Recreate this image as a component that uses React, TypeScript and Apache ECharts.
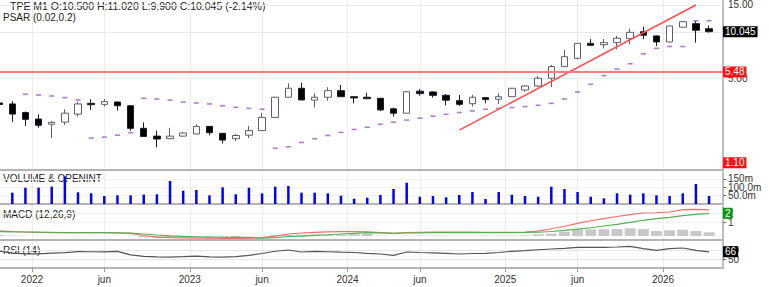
import React, { useEffect, useRef } from 'react';
import * as echarts from 'echarts';

const FONT = 'Liberation Sans, Arial, Helvetica, sans-serif';

// ---------- data (monthly) ----------
const months = [
  '2021-10', '2021-11', '2021-12',
  '2022-01', '2022-02', '2022-03', '2022-04', '2022-05', '2022-06', '2022-07', '2022-08', '2022-09', '2022-10', '2022-11', '2022-12',
  '2023-01', '2023-02', '2023-03', '2023-04', '2023-05', '2023-06', '2023-07', '2023-08', '2023-09', '2023-10', '2023-11', '2023-12',
  '2024-01', '2024-02', '2024-03', '2024-04', '2024-05', '2024-06', '2024-07', '2024-08', '2024-09', '2024-10', '2024-11', '2024-12',
  '2025-01', '2025-02', '2025-03', '2025-04', '2025-05', '2025-06', '2025-07', '2025-08', '2025-09', '2025-10', '2025-11', '2025-12',
  '2026-01', '2026-02', '2026-03', '2026-04',
];

const opens = [
  3.44, 3.39, 2.98, 2.70, 2.50, 2.58, 2.91, 3.42, 3.37, 3.49,
  3.30, 2.35, 2.09, 2.01, 2.09, 2.16, 2.42, 2.18, 2.01, 2.12,
  2.27, 2.77, 3.75, 4.29, 3.59, 3.75, 4.14, 3.78, 3.75, 3.69,
  3.15, 2.95, 4.11, 4.06, 3.86, 3.56, 3.40, 3.73, 3.64, 3.78,
  4.18, 4.44, 4.99, 5.94, 6.73, 8.43, 8.26, 8.52, 9.05, 10.04,
  9.42, 8.61, 10.75, 11.33, 10.50,
];
const closes = [
  3.36, 2.91, 2.69, 2.46, 2.57, 2.95, 3.39, 3.35, 3.51, 3.30,
  2.35, 2.08, 2.00, 2.09, 2.19, 2.42, 2.20, 1.97, 2.11, 2.27,
  2.77, 3.75, 4.29, 3.60, 3.75, 4.14, 3.78, 3.71, 3.67, 3.10,
  2.95, 4.07, 3.96, 3.86, 3.59, 3.37, 3.75, 3.62, 3.78, 4.29,
  4.44, 4.99, 5.94, 6.90, 8.43, 8.18, 8.52, 9.10, 9.95, 9.52,
  8.61, 10.94, 11.67, 10.265, 10.045,
];
const lows = [
  3.20, 2.59, 2.43, 2.37, 2.03, 2.47, 2.80, 3.10, 3.26, 3.07,
  2.27, 2.07, 1.77, 2.00, 2.08, 2.15, 2.12, 1.87, 1.94, 2.03,
  2.26, 2.76, 3.73, 3.59, 3.21, 3.56, 3.77, 3.42, 3.64, 3.05,
  2.80, 2.94, 3.84, 3.73, 3.32, 3.29, 3.26, 3.42, 3.39, 3.77,
  4.07, 4.36, 4.36, 5.90, 6.63, 8.16, 7.82, 7.70, 8.31, 9.00,
  8.10, 8.57, 10.72, 8.52, 9.90,
];
const highs = [
  3.90, 3.53, 3.02, 2.90, 2.62, 3.13, 3.51, 3.64, 3.65, 3.51,
  3.34, 2.57, 2.27, 2.37, 2.23, 2.50, 2.43, 2.19, 2.16, 2.43,
  2.95, 3.77, 4.63, 4.64, 3.98, 4.36, 4.51, 3.80, 4.01, 3.71,
  3.21, 4.11, 4.24, 4.09, 3.94, 3.88, 3.88, 3.75, 3.98, 4.31,
  4.51, 5.16, 6.09, 7.63, 8.47, 9.00, 9.00, 9.42, 10.50, 10.83,
  9.49, 10.98, 11.83, 11.83, 11.02,
];
const psar: (number | null)[] = [
  2.45, null, 3.92, 3.88, 3.82, 3.73, 3.60, 2.03, 2.06, 2.12,
  2.20, 3.69, 3.65, 3.59, 3.49, 3.44, 3.39, 3.30, 3.22, 3.17,
  3.13, 1.74, 1.78, 1.90, 2.01, 2.11, 2.21, 2.31, 2.39, 2.50,
  2.58, 2.66, 2.74, 2.82, 2.90, 2.98, 3.05, 3.13, 3.17, 3.21,
  3.26, 3.32, 3.42, 3.65, 4.06, 4.55, 5.19, 5.73, 6.20, 7.20,
  7.82, 8.04, 8.04, 11.83, 11.83,
];
// volume in millions
const volumes: (number | null)[] = [
  null, 67.7, 97.6, 97.6, 103.6, 165, 70, 64, 48, 52,
  52, 56, 58, 137.7, 79.6, 83.8, 52, 100, 58, 97.6,
  64, 103.6, 107.8, 67.7, 67.7, 64, 49.7, 31.7, 37.7, 54,
  89.8, 127.5, 43.7, 48, 40, 54, 71.9, 30, 71.9, 56,
  48, 43.7, 103.6, 89.8, 71.9, 43.7, 34, 64, 56, 64,
  52, 48, 64, 119.8, 48,
];
const macdLine = [
  0.09, 0.00, -0.05, -0.09, -0.11, -0.13, -0.13, -0.13, -0.13, -0.16,
  -0.20, -0.43, -0.60, -0.67, -0.68, -0.71, -0.72, -0.74, -0.74, -0.73,
  -0.67, -0.49, -0.27, -0.16, -0.09, -0.03, -0.02, -0.02, -0.03, -0.11,
  -0.20, -0.13, -0.08, -0.05, -0.05, -0.05, -0.07, -0.09, -0.09, -0.09,
  -0.05, 0.05, 0.30, 0.57, 0.89, 1.17, 1.39, 1.63, 1.83, 2.01,
  2.04, 2.12, 2.37, 2.41, 2.34,
];
const signalLine = [
  -0.02, -0.03, -0.05, -0.07, -0.09, -0.12, -0.13, -0.13, -0.13, -0.14,
  -0.18, -0.27, -0.38, -0.47, -0.52, -0.57, -0.60, -0.62, -0.64, -0.67,
  -0.71, -0.66, -0.54, -0.49, -0.41, -0.35, -0.27, -0.20, -0.13, -0.14,
  -0.20, -0.16, -0.14, -0.13, -0.13, -0.13, -0.13, -0.13, -0.13, -0.11,
  -0.10, -0.08, 0.00, 0.13, 0.27, 0.41, 0.60, 0.78, 1.00, 1.22,
  1.39, 1.54, 1.72, 1.87, 1.98,
];
const macdHist = [
  0.1, 0.05, 0.02, 0.02, 0.02, 0.02, 0.02, 0.02, 0.02, 0.02,
  0.02, -0.15, -0.2, -0.2, -0.15, -0.15, -0.12, -0.1, -0.1, -0.05,
  0.03, 0.1, 0.12, 0.15, 0.15, 0.15, 0.15, 0.2, 0.25, 0.05,
  0.02, 0.05, 0.05, 0.05, 0.05, 0.02, 0.02, 0.05, 0.05, 0.05,
  0.08, 0.18, 0.25, 0.47, 0.73, 0.73, 0.73, 0.76, 0.84, 0.76,
  0.54, 0.62, 0.68, 0.54, 0.4,
];
const rsi = [
  67.8, 63.5, 61.6, 61.6, 63.1, 64.2, 66.6, 66.3, 65.9, 67.2,
  59.7, 56.5, 55.2, 54.9, 55.6, 56.7, 55.2, 54.5, 55.8, 58.4,
  62.5, 67.4, 70, 65.7, 67.2, 66.3, 65.3, 64.6, 62.9, 61.4,
  58.6, 65.7, 64.6, 63.8, 62.9, 61.4, 62.5, 62.9, 64.6, 67.2,
  68.5, 70.6, 72.2, 73.7, 75.8, 75.8, 75.8, 76.5, 78, 72.8,
  69.4, 72.8, 74.3, 69.4, 66.2,
];

// trend line endpoints (month, price)
const trendMonths = ['2024-09', '2026-03'];
const trendValues = [2.29, 15.0];

// x-axis ticks, in months from Jan 2022
const xTickValues = [0, 5.5, 12, 17.5, 24, 29.5, 36, 41.5, 48];
const xTickLabels = ['2022', 'jun', '2023', 'jun', '2024', 'jun', '2025', 'jun', '2026'];

const priceGridValues = [15, 10, 5];
const priceGridLabels = ['15.00', '', '5.00'];
const supportLevel = 5.48;
const lowLevel = 1.10;
const lowLevelAnchor = 1.40; // clamped label position at bottom of price panel

const volTickValues = [50, 100, 150];
const volTickLabels = ['50.0m', '100.0m', '150m'];
const macdTickValues = [1, 2];
const macdTickLabels = ['1', '2'];
const rsiTickValues = [50, 70];
const rsiTickLabels = ['50', '70'];

// ---------- helpers ----------
const pos = (ym: string) => {
  const [y, m] = ym.split('-').map(Number);
  return (y - 2022) * 12 + (m - 1) + 0.5;
};
const X_MIN = -2.434;
const X_MAX = 52.56;
const HIDDEN_LINE = { color: 'rgba(0,0,0,0)', width: 1, type: 'solid' };

const xAxisFor = (gridIndex: number, bottom: boolean) => ({
  type: 'value',
  gridIndex,
  min: X_MIN,
  max: X_MAX,
  axisLine: { show: true, onZero: false, lineStyle: { color: '#b4b4b4', width: 2 } },
  axisTick: {
    show: true,
    customValues: xTickValues,
    length: bottom ? 4 : 0,
    lineStyle: { color: '#999' },
  },
  axisLabel: {
    show: bottom,
    customValues: xTickValues,
    interval: 0,
    hideOverlap: false,
    formatter: (v: number) => {
      const k = xTickValues.findIndex((t) => Math.abs(t - v) < 0.01);
      return k >= 0 ? xTickLabels[k] : '';
    },
    fontSize: 10,
    color: '#333',
    margin: 6,
    fontFamily: FONT,
  },
  splitLine: { show: true, lineStyle: { color: '#ececec', width: 1 } },
});

// horizontal level lines with a plain grey tick label on the right
const levelLines = (values: number[], texts: string[], color: string) =>
  values.map((v, i) => ({
    yAxis: v,
    lineStyle: { color, width: 1, type: 'solid' },
    label: {
      show: texts[i] !== '',
      position: 'end',
      distance: 5,
      formatter: texts[i],
      color: '#333',
      fontSize: 10,
      fontFamily: FONT,
    },
  }));

const boxLabel = (text: string, bg: string) => ({
  show: true,
  position: 'end',
  distance: 0,
  formatter: text,
  color: '#fff',
  backgroundColor: bg,
  padding: [1, 2, 0, 2],
  fontSize: 10,
  lineHeight: 10,
  fontFamily: FONT,
});

const rightAxisLine = { show: true, onZero: false, lineStyle: { color: '#a8a8a8', width: 1.5 } };
const rightTicks = (values: number[]) => ({
  show: true,
  customValues: values,
  length: 3,
  lineStyle: { color: '#666' },
});

function buildOption() {
  const n = months.length;
  const last = n - 1;
  const prevClose = closes[last - 1];
  const pct = ((closes[last] / prevClose - 1) * 100).toFixed(2);
  const header = `TPE M1 O:${opens[last].toFixed(3)} H:${highs[last].toFixed(3)} L:${lows[last].toFixed(3)} C:${closes[last].toFixed(3)} (${pct}%)`;

  const candleData = months.map((m, i) => [pos(m), opens[i], closes[i], lows[i], highs[i]]);
  const psarData = months
    .map((m, i) => (psar[i] == null ? null : [pos(m), psar[i]]))
    .filter((d) => d != null);
  const volData = months
    .map((m, i) => (volumes[i] == null ? null : [pos(m), volumes[i]]))
    .filter((d) => d != null);

  return {
    animation: false,
    backgroundColor: '#ffffff',
    textStyle: { fontFamily: FONT },
    grid: [
      { left: 0, right: 46, top: 0, height: 170, outerBoundsMode: 'none' },
      { left: 0, right: 46, top: 172, height: 32, outerBoundsMode: 'none' },
      { left: 0, right: 46, top: 206, height: 34, outerBoundsMode: 'none' },
      { left: 0, right: 46, top: 241, height: 27, outerBoundsMode: 'none' },
    ],
    xAxis: [xAxisFor(0, false), xAxisFor(1, false), xAxisFor(2, false), xAxisFor(3, true)],
    yAxis: [
      {
        type: 'log',
        logBase: 10,
        gridIndex: 0,
        position: 'right',
        min: 1.256,
        max: 16.17,
        axisLine: rightAxisLine,
        axisTick: { show: false },
        axisLabel: { show: false },
        splitLine: { show: false },
      },
      {
        type: 'value',
        gridIndex: 1,
        position: 'right',
        min: 0,
        max: 191.6,
        axisLine: rightAxisLine,
        axisTick: rightTicks(volTickValues),
        axisLabel: { show: false },
        splitLine: { show: false },
      },
      {
        type: 'value',
        gridIndex: 2,
        position: 'right',
        min: -0.92,
        max: 2.77,
        axisLine: rightAxisLine,
        axisTick: rightTicks(macdTickValues),
        axisLabel: { show: false },
        splitLine: { show: false },
      },
      {
        type: 'value',
        gridIndex: 2,
        position: 'right',
        min: -0.435,
        max: 3.26,
        show: false,
      },
      {
        type: 'value',
        gridIndex: 3,
        position: 'right',
        min: 31.3,
        max: 89.4,
        axisLine: rightAxisLine,
        axisTick: rightTicks(rsiTickValues),
        axisLabel: { show: false },
        splitLine: { show: false },
      },
    ],
    graphic: [
      { type: 'text', left: 10, top: 0, style: { text: header, fontSize: 10.5, fill: '#222', fontFamily: FONT } },
      { type: 'text', left: 3, top: 12, style: { text: 'PSAR (0.02,0.2)', fontSize: 10, fill: '#222', fontFamily: FONT } },
      { type: 'text', left: 3, top: 173, style: { text: 'VOLUME & OPENINT', fontSize: 10, fill: '#222', fontFamily: FONT } },
      { type: 'text', left: 3, top: 209, style: { text: 'MACD (12,26,9)', fontSize: 10, fill: '#222', fontFamily: FONT } },
      { type: 'text', left: 3, top: 245, style: { text: 'RSI (14)', fontSize: 10, fill: '#222', fontFamily: FONT } },
    ],
    series: [
      {
        name: 'trend',
        type: 'line',
        xAxisIndex: 0,
        yAxisIndex: 0,
        data: trendMonths.map((m, i) => [pos(m), trendValues[i]]),
        symbol: 'none',
        lineStyle: { color: '#ff4d4d', width: 1.5 },
        silent: true,
        z: 3,
        markLine: {
          silent: true,
          z: 1,
          symbol: ['none', 'none'],
          data: levelLines(priceGridValues, priceGridLabels, '#e8e8e8'),
        },
      },
      {
        name: 'price',
        type: 'candlestick',
        xAxisIndex: 0,
        yAxisIndex: 0,
        data: candleData,
        barWidth: 7,
        itemStyle: {
          color: '#ffffff',
          color0: '#000000',
          borderColor: '#5e5e6c',
          borderColor0: '#1c1c2c',
          borderWidth: 1,
        },
        markLine: {
          silent: true,
          z: 5,
          symbol: ['none', 'none'],
          data: [
            {
              yAxis: supportLevel,
              lineStyle: { color: '#ff7b7b', width: 2, type: 'solid' },
              label: boxLabel(supportLevel.toFixed(2), '#ff1010'),
            },
            {
              yAxis: lowLevelAnchor,
              lineStyle: HIDDEN_LINE,
              label: boxLabel(lowLevel.toFixed(2), '#ff1010'),
            },
            {
              yAxis: closes[last],
              lineStyle: HIDDEN_LINE,
              label: boxLabel(closes[last].toFixed(3), '#000000'),
            },
          ],
        },
      },
      {
        name: 'psar',
        type: 'scatter',
        xAxisIndex: 0,
        yAxisIndex: 0,
        data: psarData,
        symbol: 'rect',
        symbolSize: [5, 1.6],
        itemStyle: { color: '#9e5cbc' },
        silent: true,
      },
      {
        name: 'volume',
        type: 'bar',
        xAxisIndex: 1,
        yAxisIndex: 1,
        data: volData,
        barWidth: 2.5,
        itemStyle: { color: '#0000ff' },
        silent: true,
        markLine: {
          silent: true,
          z: 1,
          symbol: ['none', 'none'],
          data: levelLines(volTickValues, volTickLabels, '#f1f1f1'),
        },
      },
      {
        name: 'hist',
        type: 'bar',
        xAxisIndex: 2,
        yAxisIndex: 3,
        data: months.map((m, i) => [pos(m), macdHist[i]]),
        barWidth: 11,
        itemStyle: { color: '#c8c8c8' },
        silent: true,
        z: 1,
      },
      {
        name: 'macd',
        type: 'line',
        xAxisIndex: 2,
        yAxisIndex: 2,
        data: months.map((m, i) => [pos(m), macdLine[i]]),
        symbol: 'none',
        lineStyle: { color: '#ff6b6b', width: 1.2 },
        silent: true,
      },
      {
        name: 'signal',
        type: 'line',
        xAxisIndex: 2,
        yAxisIndex: 2,
        data: months.map((m, i) => [pos(m), signalLine[i]]),
        symbol: 'none',
        lineStyle: { color: '#55b055', width: 1.2 },
        silent: true,
        markLine: {
          silent: true,
          z: 0,
          symbol: ['none', 'none'],
          data: [
            ...levelLines(macdTickValues, macdTickLabels, '#f1f1f1'),
            {
              yAxis: signalLine[last],
              lineStyle: HIDDEN_LINE,
              label: boxLabel(String(Math.round(signalLine[last])), '#0c960c'),
            },
          ],
        },
      },
      {
        name: 'rsi',
        type: 'line',
        xAxisIndex: 3,
        yAxisIndex: 4,
        data: months.map((m, i) => [pos(m), rsi[i]]),
        symbol: 'none',
        lineStyle: { color: '#555555', width: 1.2 },
        silent: true,
        markLine: {
          silent: true,
          z: 0,
          symbol: ['none', 'none'],
          data: [
            ...levelLines(rsiTickValues, rsiTickLabels, '#e6e6e6'),
            {
              yAxis: rsi[last],
              lineStyle: HIDDEN_LINE,
              label: boxLabel(String(Math.round(rsi[last])), '#000000'),
            },
          ],
        },
      },
    ],
  };
}

export default function App() {
  const ref = useRef<HTMLDivElement>(null);
  useEffect(() => {
    if (!ref.current) return;
    const chart = echarts.init(ref.current, null, { renderer: 'svg' });
    chart.setOption(buildOption() as any);
    return () => chart.dispose();
  }, []);
  return (
    <div
      ref={ref}
      style={{ position: 'absolute', left: 0, top: 0, width: 769, height: 287, background: '#fff' }}
    />
  );
}
